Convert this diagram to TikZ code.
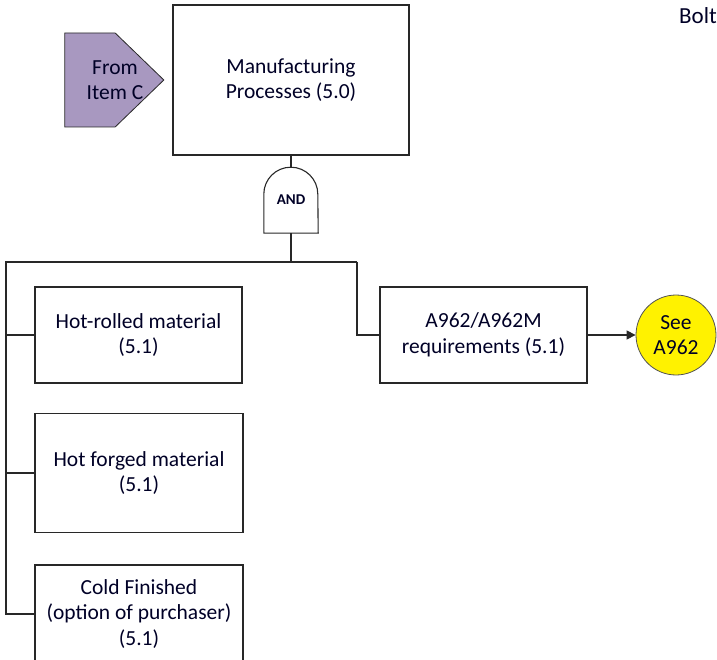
\documentclass[tikz,border=0pt]{standalone}
\usepackage{fontspec}
\setmainfont{Carlito}
\usetikzlibrary{shapes.symbols,arrows.meta}
\definecolor{refpurple}{RGB}{168,152,192}
\definecolor{lineclr}{RGB}{40,40,40}
\begin{document}
\begin{tikzpicture}[x=1pt, y=-1pt,
      every node/.style={font=\fontsize{21.5}{25.5}\selectfont, align=center, text=black!85!blue},
      proc/.style={draw=lineclr, line width=1.1pt, inner sep=2pt},
      ref/.style={signal, signal to=east, signal pointer angle=88, draw=lineclr,
        line width=0.8pt, fill=refpurple, minimum width=99pt, minimum height=94pt, inner sep=0pt},
      gate/.style={minimum width=54pt, minimum height=66pt, inner sep=0pt,
        font=\fontsize{15}{18}\selectfont\bfseries},
      conn/.style={circle, draw=lineclr!80, line width=0.8pt, fill=yellow, minimum size=80pt, inner sep=0pt},
      wire/.style={draw=lineclr, line width=1.1pt},
    ]
    \useasboundingbox (0,0) rectangle (717,660);
    \clip (0,0) rectangle (717,660);

    \node[proc, minimum width=236pt, minimum height=150pt] (mfg) at (291, 80) {Manufacturing \\ Processes (5.0)};
    \node[ref, label={[xshift=25pt]center:From \\ Item C}] (fromc) at (90, 80) {};
    \node[gate] (and) at (291, 200) {AND};
    \draw[wire] (and.south west) -- ++(0pt,39pt) arc[start angle=180, end angle=0, radius=27pt] -- (and.south east) -- cycle;

    \node[proc, minimum width=207pt, minimum height=96pt] (hotr) at (138.5, 335) {Hot-rolled material \\ (5.1)};
    \node[proc, minimum width=208pt, minimum height=119pt] (hotf) at (139, 473) {Hot forged material \\ (5.1)};
    \node[proc, minimum width=208pt, minimum height=98pt] (cold) at (139, 614) {Cold Finished \\ (option of purchaser) \\ (5.1)};
    \node[proc, minimum width=207pt, minimum height=96pt] (a962) at (483.5, 335) {A962/A962M \\ requirements (5.1)};
    \node[conn] (see) at (676, 335) {See \\ A962};
    \node[anchor=west, inner sep=0pt, font=\fontsize{23}{27}\selectfont] (bolt) at (679, 16) {Bolt};

    \coordinate (busl) at (6, 262);
    \coordinate (busr) at (357, 262);

    \draw[wire] (mfg.south) -- (and.north);
    \draw[wire] (and.south) -- (and.south |- busl);
    \draw[wire] (busr) -- (busl) |- (cold.west);
    \foreach \dst in {hotr, hotf} \draw[wire] (busl) |- (\dst.west);
    \draw[wire] (busr) |- (a962.west);
    \draw[wire, -{Triangle[length=9pt, width=9pt]}] (a962) -- (see);
  \end{tikzpicture}
\end{document}
